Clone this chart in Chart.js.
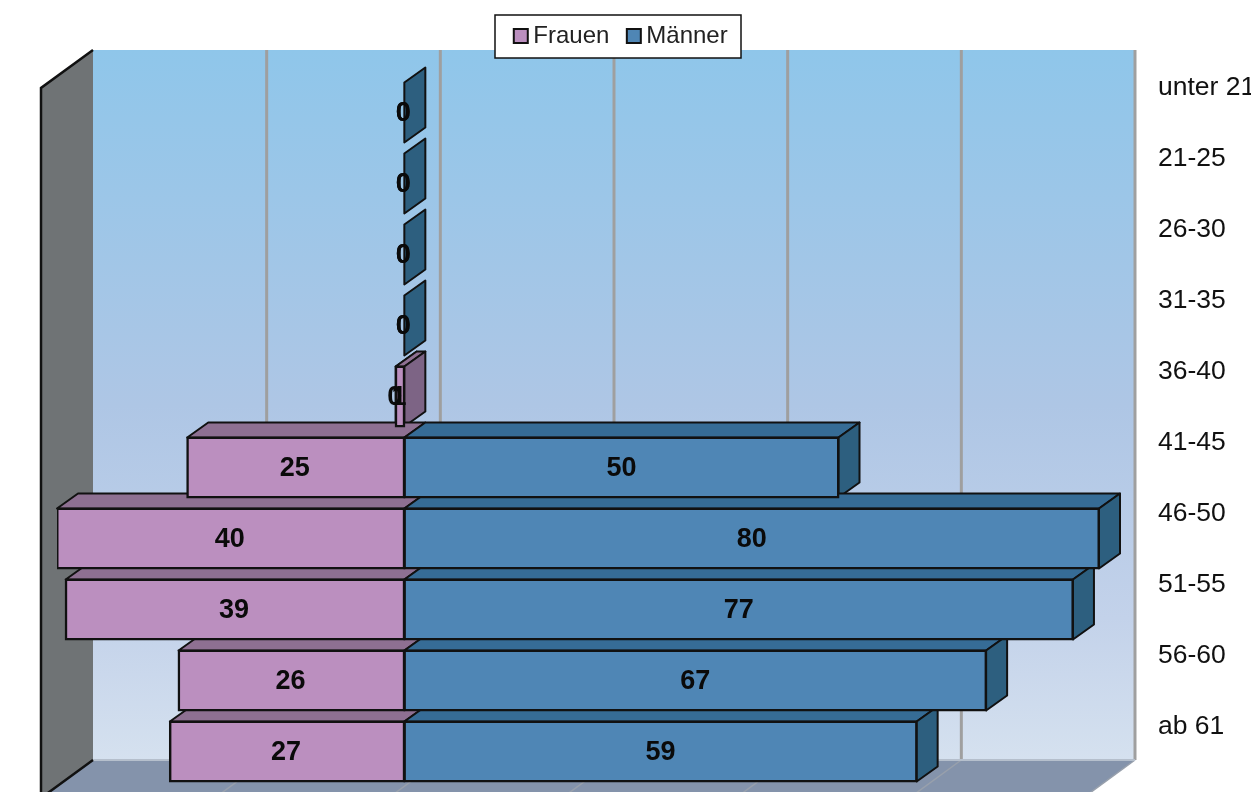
<!DOCTYPE html>
<html><head><meta charset="utf-8">
<style>html,body{margin:0;padding:0;background:#fff;overflow:hidden}canvas{display:block}</style>
<script src="https://cdn.jsdelivr.net/npm/chart.js@4"></script></head>
<body><canvas id="c" width="1251" height="792"></canvas>
<script>
const categories = ['unter 21','21-25','26-30','31-35','36-40','41-45','46-50','51-55','56-60','ab 61'];
const frauen = [0,0,0,0,1,25,40,39,26,27];
const maenner = [0,0,0,0,0,50,80,77,67,59];
const xTicksMin = -40, xTicksMax = 80, xStep = 20;

const FONT = '"Liberation Sans", Arial, sans-serif';
const BAR = {dx:21, dy:15};
const WALL = {bx:36, by:27, fx:16, fy:11};
const C = {
  fF:'#bb8fbf', fTop:'#8e7092', fSide:'#7d6485',
  mF:'#4f86b5', mTop:'#366c96', mSide:'#2d5f7f', line:'#111'
};

function poly(ctx, pts, fill, stroke, lw){
  ctx.beginPath();
  pts.forEach((p,i)=> i?ctx.lineTo(p[0],p[1]):ctx.moveTo(p[0],p[1]));
  ctx.closePath();
  if(fill){ctx.fillStyle=fill;ctx.fill();}
  if(stroke){ctx.strokeStyle=stroke;ctx.lineWidth=lw||2;ctx.lineJoin='round';ctx.stroke();}
}

const scene = {
  id:'scene',
  afterLayout(chart){
    const l = chart.legend;
    l.left -= 30; l.right -= 30; l.top -= 5; l.bottom -= 5;
  },
  beforeDraw(chart){
    const {ctx, chartArea:a, scales:{x}} = chart;
    const bT=a.top-WALL.by, bB=a.bottom-WALL.by;
    const bL=a.left+WALL.bx, bR=a.right+WALL.bx;
    const fT=a.top+WALL.fy, fB=a.bottom+WALL.fy;
    const fL=a.left-WALL.fx, fR=a.right-WALL.fx;
    ctx.save();
    const g=ctx.createLinearGradient(0,bT,0,bB);
    g.addColorStop(0,'#8fc6ea'); g.addColorStop(.5,'#aec6e5'); g.addColorStop(.8,'#c3d2ea'); g.addColorStop(1,'#d5e1ef');
    ctx.fillStyle=g; ctx.fillRect(bL,bT,bR-bL,bB-bT);
    poly(ctx,[[bL,bB],[bR,bB],[fR,fB],[fL,fB]],'#8493ab');
    x.ticks.forEach(t=>{
      const p=x.getPixelForValue(t.value)+WALL.bx;
      if(t.value===xTicksMin) return;
      ctx.strokeStyle='#9f9f9f'; ctx.lineWidth=3;
      ctx.beginPath(); ctx.moveTo(p,bT); ctx.lineTo(p,bB); ctx.stroke();
      ctx.strokeStyle='#98a0ac'; ctx.lineWidth=1.5;
      ctx.beginPath(); ctx.moveTo(p,bB); ctx.lineTo(p-WALL.bx-WALL.fx,fB); ctx.stroke();
    });
    ctx.strokeStyle='#b5bfcc'; ctx.lineWidth=2;
    ctx.beginPath(); ctx.moveTo(bL,bB); ctx.lineTo(bR,bB); ctx.stroke();
    poly(ctx,[[fL,fT],[bL,bT],[bL,bB],[fL,fB]],'#6f7375');
    ctx.strokeStyle=C.line; ctx.lineWidth=2.5;
    ctx.beginPath(); ctx.moveTo(bL,bT); ctx.lineTo(fL,fT); ctx.lineTo(fL,fB); ctx.lineTo(bL,bB); ctx.stroke();
    ctx.fillStyle='#fff'; ctx.fillRect(495,15,246,43);
    ctx.strokeStyle=C.line; ctx.lineWidth=1.5; ctx.strokeRect(495,15,246,43);
    ctx.restore();
  },
  beforeDatasetsDraw(chart){
    const ctx=chart.ctx, F=chart.getDatasetMeta(0).data, M=chart.getDatasetMeta(1).data;
    const D=BAR;
    const top=(b,col)=>{
      const l=Math.min(b.x,b.base), r=Math.max(b.x,b.base), y=b.y-b.height/2;
      poly(ctx,[[l,y],[l+D.dx,y-D.dy],[r+D.dx,y-D.dy],[r,y]],col,C.line,2);
    };
    const side=(px,b,col)=>{
      const t=b.y-b.height/2, u=b.y+b.height/2;
      poly(ctx,[[px,t],[px+D.dx,t-D.dy],[px+D.dx,u-D.dy],[px,u]],col,C.line,2);
    };
    ctx.save();
    categories.forEach((_,i)=>{
      const f=F[i], m=M[i];
      if(maenner[i]===0) side(m.base,m,C.mSide);
      if(frauen[i]!==0){
        top(f,C.fTop);
        if(maenner[i]===0) side(f.base,f,C.fSide);
      }
      if(maenner[i]!==0){
        top(m,C.mTop);
        side(m.x,m,C.mSide);
      }
    });
    ctx.restore();
  },
  afterDatasetsDraw(chart){
    const ctx=chart.ctx, F=chart.getDatasetMeta(0).data, M=chart.getDatasetMeta(1).data, x=chart.scales.x;
    ctx.save();
    ctx.font='bold 27px '+FONT; ctx.fillStyle='#0a0a0a';
    ctx.textAlign='center'; ctx.textBaseline='middle';
    categories.forEach((_,i)=>{
      const y=F[i].y+1;
      if(frauen[i]!==0) ctx.fillText(String(frauen[i]),(F[i].x+F[i].base)/2-1,y);
      else ctx.fillText('0',F[i].base-1,y);
      if(maenner[i]!==0) ctx.fillText(String(maenner[i]),(M[i].x+M[i].base)/2,y);
      else ctx.fillText('0',x.getPixelForValue(-frauen[i])-1,y);
    });
    ctx.restore();
  }
};

new Chart(document.getElementById('c'),{
  type:'bar',
  data:{labels:categories,datasets:[
    {label:'Frauen',data:frauen.map(v=>-v),backgroundColor:C.fF,borderColor:C.line,borderWidth:2.5,borderSkipped:false,inflateAmount:1},
    {label:'Männer',data:maenner,backgroundColor:C.mF,borderColor:C.line,borderWidth:2.5,borderSkipped:false,inflateAmount:1}
  ]},
  options:{
    indexAxis:'y',responsive:false,animation:false,devicePixelRatio:1,
    events:[],
    layout:{padding:{left:57,top:5,bottom:5,right:0}},
    datasets:{bar:{barPercentage:60/71,categoryPercentage:1}},
    plugins:{
      tooltip:{enabled:false},title:{display:false},
      legend:{display:true,position:'top',align:'center',
        labels:{usePointStyle:true,pointStyle:'rect',boxWidth:1,boxHeight:14,padding:24,
          color:'#222',font:{family:FONT,size:24},
          generateLabels(chart){
            return chart.data.datasets.map((d,i)=>({text:d.label,fillStyle:d.backgroundColor,strokeStyle:'#111',lineWidth:2,pointStyle:'rect',datasetIndex:i,fontColor:'#222'}));
          }}}
    },
    scales:{
      x:{type:'linear',position:'top',stacked:true,min:xTicksMin,max:xTicksMax,
        ticks:{display:false,stepSize:xStep},grid:{display:false},border:{display:false},
        afterFit(s){s.height=14;s.paddingLeft=0;s.paddingRight=0;s.paddingTop=0;s.paddingBottom=0;}},
      y:{type:'category',position:'right',stacked:true,
        grid:{display:false},border:{display:false},
        ticks:{autoSkip:false,labelOffset:-25,padding:51,color:'#111',font:{family:FONT,size:26.5},crossAlign:'near',minRotation:0,maxRotation:0},
        afterFit(s){s.width=152;s.paddingTop=0;s.paddingBottom=0;s.paddingLeft=0;s.paddingRight=0;}}
    }
  },
  plugins:[scene]
});
</script></body></html>
